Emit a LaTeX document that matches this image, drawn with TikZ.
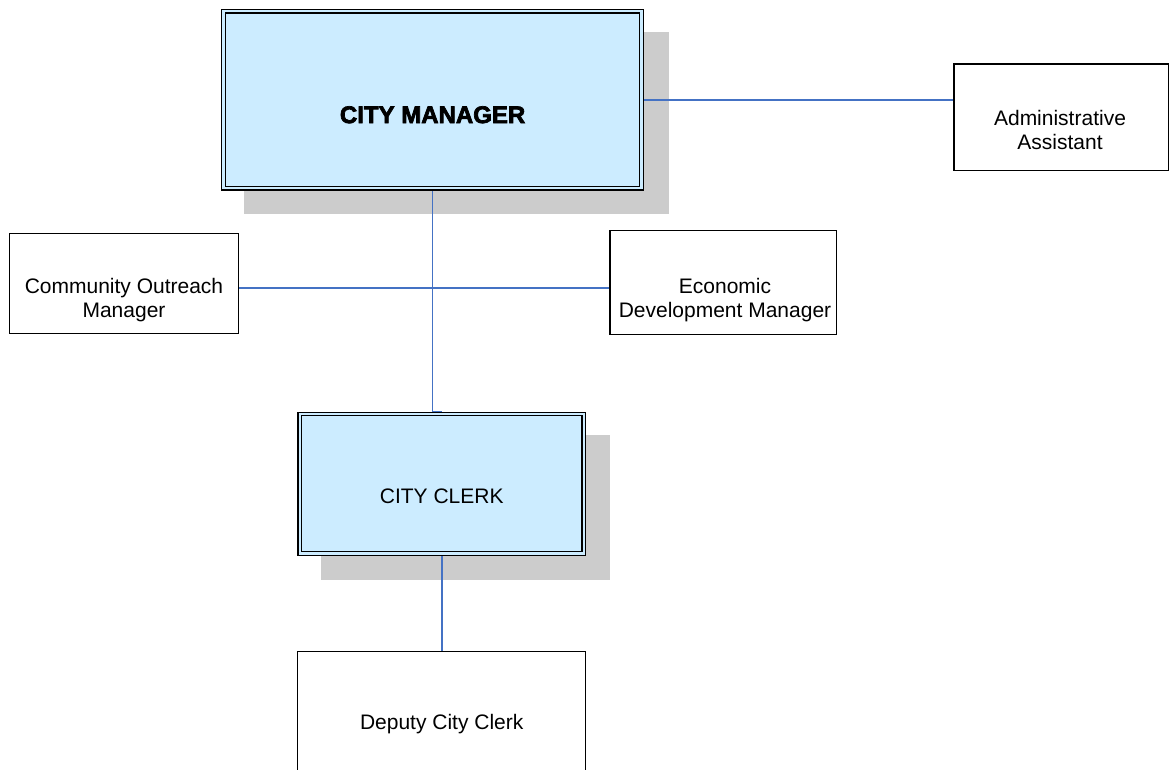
\documentclass[tikz,border=0pt]{standalone}
\usepackage{fontspec}
\setmainfont{Liberation Sans}
\newfontfamily\heavyfont{Liberation Sans}[BoldFeatures={FakeBold=3}]
\usetikzlibrary{backgrounds,calc}
\definecolor{boxblue}{RGB}{204,236,255}
\definecolor{shadowgray}{RGB}{204,204,204}
\definecolor{linkblue}{RGB}{68,114,196}
\begin{document}
\begin{tikzpicture}[x=1pt,y=-1pt,
  every node/.style={inner sep=0pt,outer sep=0pt},
  headbox/.style={rectangle,draw=black,line width=1.2pt,double=boxblue,double distance=2.4pt,fill=boxblue},
  staffbox/.style={rectangle,draw=black,line width=1.3pt,fill=white},
  boxtext/.style={font=\fontsize{21}{23.5}\selectfont,align=center,text=black},
  headtext/.style={font=\fontsize{24}{28}\selectfont\heavyfont\bfseries,text=black},
  link/.style={draw=linkblue,line width=1.7pt},
  shadowbox/.style={fill=shadowgray}]
\useasboundingbox (0,0) rectangle (1171,770);

% head boxes
\node[headbox,minimum width=418pt,minimum height=177pt] (mgr) at (432.6,99.8) {};
\node[headtext] (mgrtext) at ([yshift=-15pt]mgr.center) {CITY MANAGER};
\node[headbox,minimum width=284pt,minimum height=139.3pt] (clerk) at (441.7,483.7) {};
\node[boxtext] (clerktext) at ([yshift=-13pt]clerk.center) {CITY CLERK};

% staff boxes
\node[staffbox,minimum width=229.4pt,minimum height=100.4pt] (com) at (124,283.5) {};
\node[boxtext] (comtext) at (124,300) {Community Outreach\\Manager};
\node[staffbox,minimum width=226.7pt,minimum height=103.6pt] (eco) at (723.3,282.5) {};
\node[boxtext] (ecotext) at (725,300) {Economic\\Development Manager};
\node[staffbox,minimum width=214.7pt,minimum height=106.7pt] (adm) at (1061.3,117.3) {};
\node[boxtext] (admtext) at (1060,130) {Administrative\\Assistant};
\node[staffbox,minimum width=288pt,minimum height=146pt] (dep) at (441.7,724.7) {};
\node[boxtext] (deptext) at (441.7,724) {Deputy City Clerk};

\coordinate (junc) at (432.6,288);

\begin{scope}[on background layer]
  \fill[shadowbox] ([xshift=20.5pt,yshift=-20.5pt]mgr.north west) rectangle ([xshift=27pt,yshift=-26pt]mgr.south east);
  \fill[shadowbox] ([xshift=21pt,yshift=-21pt]clerk.north west) rectangle ([xshift=26.5pt,yshift=-26.5pt]clerk.south east);
  \draw[link] (mgr.east) -- (adm.west |- mgr.east);
  \draw[link] (mgr.south) -- ([yshift=2pt]mgr.south |- clerk.north) -- ([yshift=2pt]clerk.north);
  \draw[link] (com.east |- junc) -- (eco.west |- junc);
  \draw[link] (clerk.south) -- (dep.north);
\end{scope}
\end{tikzpicture}
\end{document}
